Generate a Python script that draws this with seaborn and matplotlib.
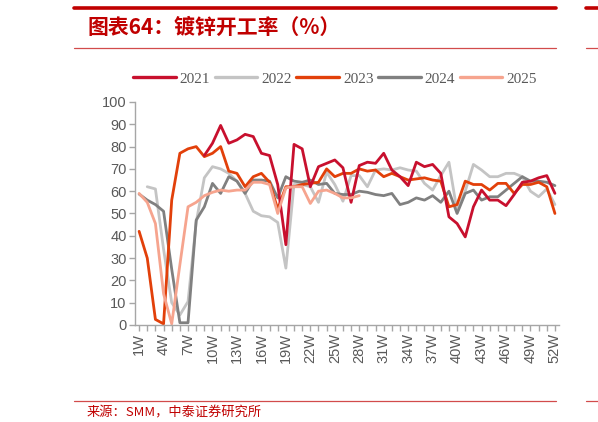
import numpy as np
import pandas as pd
import matplotlib
matplotlib.use("Agg")
import matplotlib.pyplot as plt
from matplotlib.lines import Line2D
import seaborn as sns

nan = np.nan

# 数据：周度镀锌开工率（%）
weeks = list(range(1, 53))
week_labels = [f"{w}W" for w in weeks]

y2021 = [nan] * 8 + [76, 81.5, 89.5, 81.5, 83, 85.5, 84.5, 77, 76, 63,
                     36, 81, 79, 62, 71, 72.5, 74, 70.5, 55, 71.5,
                     73, 72.5, 77, 69.5, 66.5, 62.5, 73, 71, 72, 68,
                     48.5, 45.5, 39.5, 53, 60.5, 56, 56, 53.5, 58.5, 64,
                     64.5, 66, 67, 59]
y2022 = [nan, 62, 61, 34, 10, 4.5, 10.5, 46, 66, 71,
         70, 68, 64.5, 59, 51, 49, 48.5, 46, 25.5, 63,
         63, 62, 55, 68.5, 63, 55.5, 67, 67, 62, 69.5,
         70, 69.5, 70.5, 69.5, 69, 63.5, 60.5, 67, 73, 51,
         60, 72, 69.5, 66.5, 66.5, 68, 68, 66.5, 60, 57.5,
         61, 54]
y2023 = [42, 30, 2.5, 0.5, 56, 77, 79, 80, 75.5, 77,
         80, 69, 68, 62, 66.5, 68, 64, 52, 62, 62,
         63, 63.5, 64, 70, 66.5, 68, 68, 70, 69, 69.5,
         66.5, 68, 66.5, 65, 65.5, 66, 65, 64.5, 53, 54,
         64.5, 63, 63, 60.5, 63.5, 63.5, 59, 63, 63, 64,
         62, 50]
y2024 = [58.7, 56, 54, 51, 25, 1, 1, 47, 53, 63.5,
         59, 66.5, 64.5, 59, 65, 65, 64.5, 57, 66.5, 64.5,
         64, 65, 63, 63.5, 59, 58.5, 58.5, 60, 59.5, 58.5,
         58, 59, 54, 55, 57, 56, 58, 55, 60, 50,
         59, 60.5, 56, 57.5, 57.5, 60.5, 63.5, 66.5, 64.5, 64.5,
         64, 62.5]
y2025 = [59, 55, 45.5, 14, 0.5, 27, 53, 55, 58, 59.5,
         60.5, 60, 60.5, 60.5, 64, 64, 63, 50, 61.5, 62,
         62, 54.5, 60, 60.5, 59, 57, 57, 58] + [nan] * 24

series = {"2021": y2021, "2022": y2022, "2023": y2023, "2024": y2024, "2025": y2025}
colors = {"2021": "#C8102E", "2022": "#C4C4C4", "2023": "#E2400A",
          "2024": "#808080", "2025": "#F6A48E"}
draw_order = ["2022", "2024", "2023", "2021", "2025"]

sns.set_style("ticks")
plt.rcParams["font.family"] = ["Liberation Sans", "Noto Sans CJK SC", "DejaVu Sans"]

fig = plt.figure(figsize=(5.98, 4.22), dpi=100)
ax = fig.add_axes([0.2258, 0.2299, 0.7090, 0.5284])

for yr in draw_order:
    df = pd.DataFrame({"week": weeks, "rate": series[yr]}).dropna()
    sns.lineplot(data=df, x="week", y="rate", ax=ax, color=colors[yr],
                 linewidth=2.0, label=yr)

ax.set_xlim(0.5, 52.5)
ax.set_ylim(0, 100)
ax.set_yticks(range(0, 101, 10))
ax.set_xticks(weeks)
ax.set_xticklabels([lab if (w - 1) % 3 == 0 else "" for w, lab in zip(weeks, week_labels)],
                   rotation=90)
ax.set_xlabel("")
ax.set_ylabel("")
sns.despine(ax=ax)
for side in ["left", "bottom"]:
    ax.spines[side].set_color("#A6A6A6")
    ax.spines[side].set_linewidth(1.0)
ax.tick_params(axis="both", colors="#A6A6A6", length=4, width=1.0,
               labelcolor="#595959", labelsize=10.5, pad=2)
ax.grid(False)

# 图例
ax.legend_.remove()
order = ["2021", "2022", "2023", "2024", "2025"]
leg = fig.legend([Line2D([0], [0], color=colors[k], lw=2.4) for k in order], order,
                 loc="center", bbox_to_anchor=(0.560, 0.813), ncol=5, frameon=False,
                 handlelength=2.8, handletextpad=0.25, columnspacing=0.3,
                 prop={"family": "Liberation Serif", "size": 11})
for t in leg.get_texts():
    t.set_color("#595959")

# 标题与框线
red = "#C00000"
fig.add_artist(Line2D([0.124, 0.930], [0.980, 0.980], color=red, lw=2.6))
fig.add_artist(Line2D([0.980, 1.0], [0.980, 0.980], color=red, lw=2.6))
fig.add_artist(Line2D([0.124, 0.930], [0.887, 0.887], color="#D24B4B", lw=0.9))
fig.add_artist(Line2D([0.980, 1.0], [0.887, 0.887], color="#D24B4B", lw=0.9))
fig.add_artist(Line2D([0.124, 0.930], [0.050, 0.050], color="#D24B4B", lw=0.9))
fig.add_artist(Line2D([0.980, 1.0], [0.050, 0.050], color="#D24B4B", lw=0.9))

fig.text(0.147, 0.936, "图表64：镀锌开工率（%）", color=red, fontsize=15,
         fontweight="bold", style="italic", va="center", ha="left",
         family=["Noto Sans CJK SC", "DejaVu Sans"])
fig.text(0.145, 0.021, "来源：SMM，中泰证券研究所", color=red, fontsize=9.5,
         va="center", ha="left", family=["Noto Sans CJK SC", "DejaVu Sans"])

fig.savefig("out.png", dpi=100)
